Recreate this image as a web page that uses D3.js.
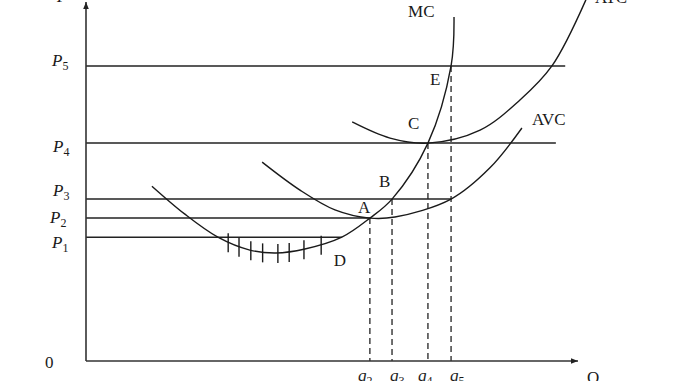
<!DOCTYPE html>
<html>
<head>
<meta charset="utf-8">
<script src="https://cdn.jsdelivr.net/npm/d3@7"></script>
<style>
    body { margin: 0; background: #fff; }
    svg text { font-family: "Liberation Serif", "Times New Roman", serif; font-size: 17px; fill: #1a1a1a; }
    .curve { fill: none; stroke: #1a1a1a; stroke-width: 1.4; }
    .price-line { stroke: #222; stroke-width: 1.5; }
    .guide { stroke: #222; stroke-width: 1.3; stroke-dasharray: 6,4; }
    .axis-line { stroke: #333; stroke-width: 1.6; }
    .hatch { stroke: #1a1a1a; stroke-width: 1.4; }
</style>
</head>
<body>
<div id="chart"></div>
<script>
// Price levels and where each horizontal line stops (quantity units, 0-100).
const priceNames = ["1", "2", "3", "4", "5"];
const prices = [34.5, 39.8, 45.1, 60.7, 82.2];
const priceLineEnds = [52.0, 57.7, 74.2, 95.5, 97.4];

// Quantities marked on the Q axis and the price each dashed guide rises to.
const qtyNames = ["2", "3", "4", "5"];
const quantities = [57.7, 62.2, 69.5, 74.2];
const qtyPrices = [39.8, 45.1, 60.7, 82.2];

// Point labels sitting on the MC curve.
const pointNames = ["A", "B", "C", "E"];

// Cost curves.
const mcQ = [13.4, 20.1, 26.8, 33.3, 38.6, 44.5, 52.0, 57.7, 62.2, 69.5, 74.2, 74.8];
const mcP = [48.7, 40.9, 34.5, 30.9, 30.1, 31.2, 34.5, 39.8, 45.1, 60.7, 82.2, 95.8];

const avcQ = [35.8, 43.5, 50.6, 57.7, 62.8, 74.2, 82.1, 88.6];
const avcP = [55.4, 47.6, 42.1, 39.8, 40.1, 45.1, 53.8, 64.9];

const atcQ = [54.1, 61.8, 69.5, 80.1, 88.2, 94.7, 101.6];
const atcP = [66.6, 62.1, 60.7, 64.3, 72.7, 82.2, 100.6];

// Hatch marks across the bottom of MC.
const hatchQ = [28.9, 31.1, 33.5, 35.9, 39.0, 41.3, 44.3, 47.8];

const width = 678, height = 381;

const x = d3.scaleLinear().domain([0, 100]).range([86, 578]);
const y = d3.scaleLinear().domain([0, 100]).range([361, 2]);

const svg = d3.select("#chart").append("svg")
    .attr("width", width)
    .attr("height", height);

svg.append("defs").append("marker")
    .attr("id", "arrow")
    .attr("viewBox", "0 0 10 10")
    .attr("refX", 10)
    .attr("refY", 5)
    .attr("markerWidth", 7)
    .attr("markerHeight", 7)
    .attr("markerUnits", "userSpaceOnUse")
    .attr("orient", "auto")
    .append("path")
    .attr("d", "M0,1L10,5L0,9Z")
    .attr("fill", "#222");

// Horizontal price lines.
svg.append("g").selectAll("line")
    .data(prices)
    .join("line")
    .attr("class", "price-line")
    .attr("x1", x(0))
    .attr("x2", (d, i) => x(priceLineEnds[i]))
    .attr("y1", d => y(d))
    .attr("y2", d => y(d));

// Dashed guides down to the Q axis.
svg.append("g").selectAll("line")
    .data(quantities)
    .join("line")
    .attr("class", "guide")
    .attr("x1", d => x(d))
    .attr("x2", d => x(d))
    .attr("y1", (d, i) => y(qtyPrices[i]))
    .attr("y2", y(0));

// Curves.
const line = (qs, ps) => d3.line()
    .x(d => x(qs[d]))
    .y(d => y(ps[d]))
    .curve(d3.curveCatmullRom.alpha(0.5))(d3.range(qs.length));

const mcPath = svg.append("path").attr("class", "curve").attr("d", line(mcQ, mcP));
svg.append("path").attr("class", "curve").attr("d", line(avcQ, avcP));
svg.append("path").attr("class", "curve").attr("d", line(atcQ, atcP));

// Find y of the MC path at a given pixel x (MC is monotonic in x).
function yOnPath(node, px) {
    let lo = 0, hi = node.getTotalLength();
    for (let k = 0; k < 30; k++) {
        const mid = (lo + hi) / 2;
        if (node.getPointAtLength(mid).x < px) lo = mid; else hi = mid;
    }
    return node.getPointAtLength(lo).y;
}

svg.append("g").selectAll("line")
    .data(hatchQ)
    .join("line")
    .attr("class", "hatch")
    .attr("x1", d => x(d))
    .attr("x2", d => x(d))
    .attr("y1", d => yOnPath(mcPath.node(), x(d)) - 9)
    .attr("y2", d => yOnPath(mcPath.node(), x(d)) + 10);

// Axes.
svg.append("line")
    .attr("class", "axis-line")
    .attr("x1", x(0)).attr("y1", y(0))
    .attr("x2", x(100)).attr("y2", y(0))
    .attr("marker-end", "url(#arrow)");

svg.append("line")
    .attr("class", "axis-line")
    .attr("x1", x(0)).attr("y1", y(0))
    .attr("x2", x(0)).attr("y2", y(100))
    .attr("marker-end", "url(#arrow)");

// Price labels (P with subscript).
const pOffsets = [[-34, 11], [-36, 5], [-33, -3], [-33, 9], [-34, 0]];
const pLabels = svg.append("g").selectAll("text")
    .data(priceNames)
    .join("text")
    .attr("x", (d, i) => x(0) + pOffsets[i][0])
    .attr("y", (d, i) => y(prices[i]) + pOffsets[i][1]);
pLabels.append("tspan").style("font-style", "italic").text("P");
pLabels.append("tspan").attr("dy", 4).style("font-size", "12px").text(d => d);

// Quantity labels (q with subscript).
const qOffsets = [-12, -2, -10, -1];
const qLabels = svg.append("g").selectAll("text")
    .data(qtyNames)
    .join("text")
    .attr("x", (d, i) => x(quantities[i]) + qOffsets[i])
    .attr("y", y(0) + 20);
qLabels.append("tspan").style("font-style", "italic").text("q");
qLabels.append("tspan").attr("dy", 4).style("font-size", "12px").text(d => d);

// Point labels.
const ptOffsets = [[-12, -5], [-13, -12], [-20, -14], [-21, 19]];
svg.append("g").selectAll("text")
    .data(pointNames)
    .join("text")
    .attr("x", (d, i) => x(quantities[i]) + ptOffsets[i][0])
    .attr("y", (d, i) => y(qtyPrices[i]) + ptOffsets[i][1])
    .text(d => d);

svg.append("text")
    .attr("x", x(priceLineEnds[0]) - 8)
    .attr("y", y(prices[0]) + 29)
    .text("D");

// Curve names.
svg.append("text")
    .attr("x", x(mcQ[mcQ.length - 1]) - 46)
    .attr("y", y(mcP[mcP.length - 1]))
    .text("MC");

svg.append("text")
    .attr("x", x(avcQ[avcQ.length - 1]) + 10)
    .attr("y", y(avcP[avcP.length - 1]) - 3)
    .text("AVC");

svg.append("text")
    .attr("x", 595)
    .attr("y", 3)
    .text("ATC");

// Axis names and origin.
svg.append("text")
    .attr("x", x(0) - 29)
    .attr("y", y(100))
    .style("font-style", "italic")
    .text("P");

svg.append("text")
    .attr("x", x(100) + 9)
    .attr("y", y(0) + 22)
    .text("Q");

svg.append("text")
    .attr("x", x(0) - 41)
    .attr("y", y(0) + 7)
    .text("0");
</script>
</body>
</html>
